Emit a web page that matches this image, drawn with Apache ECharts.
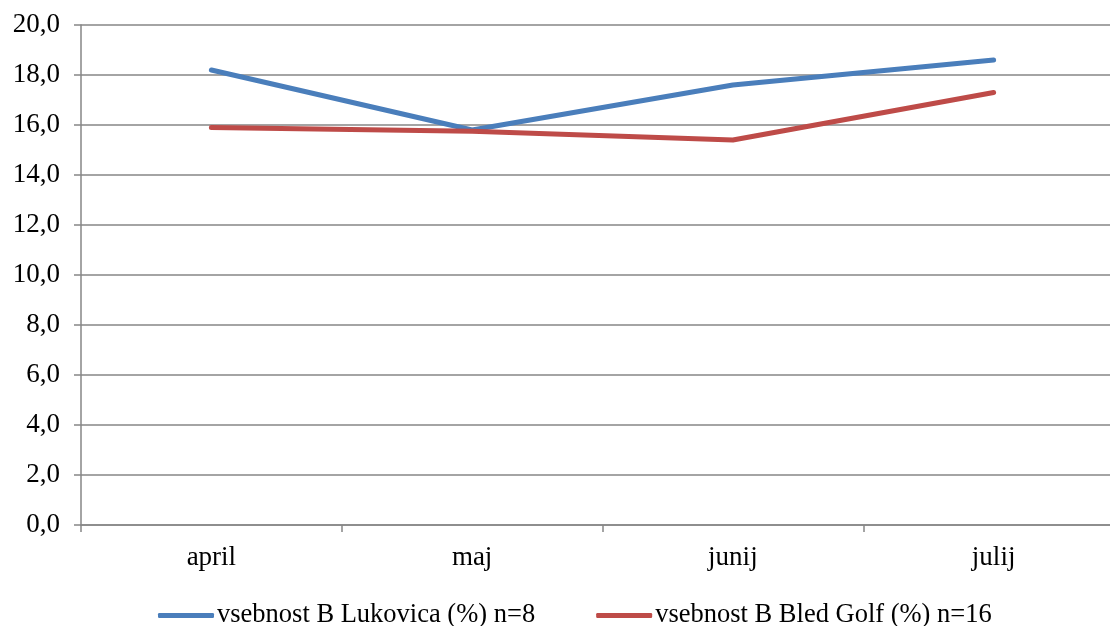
<!DOCTYPE html>
<html><head><meta charset="utf-8">
<script src="https://cdn.jsdelivr.net/npm/echarts@6/dist/echarts.min.js"></script>
<style>html,body{margin:0;padding:0;background:#fff}#c{width:1110px;height:626px}</style>
</head><body><div id="c"></div>
<script>
const categories = ['april', 'maj', 'junij', 'julij'];
const lukovica = [18.2, 15.8, 17.6, 18.6];
const bledGolf = [15.9, 15.75, 15.4, 17.3];
const seriesNames = ['vsebnost B Lukovica (%) n=8', 'vsebnost B Bled Golf (%) n=16'];
const yTicks = {min: 0, max: 20, interval: 2};

const chart = echarts.init(document.getElementById('c'), null, {renderer: 'canvas'});
const font = 'Liberation Serif';
chart.setOption({
  animation: false,
  backgroundColor: '#fff',
  textStyle: {fontFamily: font},
  grid: {left: 81, top: 25, right: -14, bottom: 101, containLabel: false, outerBoundsMode: 'none'},
  legend: {
    top: 597, left: 153,
    itemGap: 61, itemWidth: 56, itemHeight: 5,
    icon: 'roundRect',
    textStyle: {fontFamily: font, fontSize: 26.5, color: '#000', padding: [0, 0, 0, -2]},
    data: seriesNames
  },
  xAxis: {
    type: 'category', data: categories, boundaryGap: true,
    axisLine: {lineStyle: {color: '#868686', width: 1.5}},
    axisTick: {show: true, length: 7, lineStyle: {color: '#868686', width: 1.5}},
    axisLabel: {fontFamily: font, fontSize: 27, color: '#000', margin: 19},
    splitLine: {show: false}
  },
  yAxis: {
    type: 'value', min: yTicks.min, max: yTicks.max, interval: yTicks.interval,
    axisLine: {show: true, lineStyle: {color: '#868686', width: 1.5}},
    axisTick: {show: true, length: 7, lineStyle: {color: '#868686', width: 1.5}},
    axisLabel: {fontFamily: font, fontSize: 27, color: '#000', margin: 21,
      formatter: v => v.toFixed(1).replace('.', ',')},
    splitLine: {lineStyle: {color: '#868686', width: 1.5}}
  },
  series: [
    {name: seriesNames[0], type: 'line', data: lukovica, symbol: 'none',
      lineStyle: {color: '#4A7EBB', width: 5, cap: 'round', join: 'round'}, itemStyle: {color: '#4A7EBB'}},
    {name: seriesNames[1], type: 'line', data: bledGolf, symbol: 'none',
      lineStyle: {color: '#BE4B48', width: 5, cap: 'round', join: 'round'}, itemStyle: {color: '#BE4B48'}}
  ]
});
</script></body></html>
